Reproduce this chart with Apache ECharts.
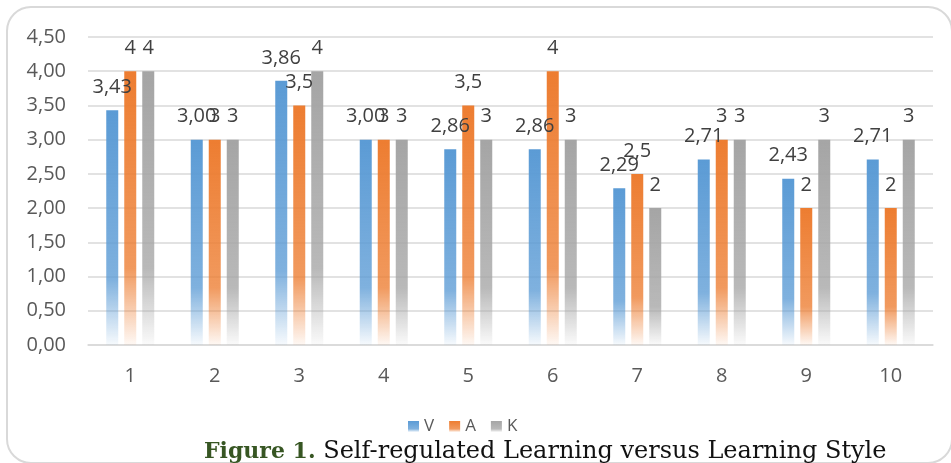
<!DOCTYPE html>
<html><head><meta charset="utf-8">
<script src="https://cdn.jsdelivr.net/npm/echarts@6/dist/echarts.min.js"></script>
<style>html,body{margin:0;padding:0;background:#fff}#c{width:951px;height:463px}</style>
</head><body><div id="c"></div>
<script>
const categories = ['1','2','3','4','5','6','7','8','9','10'];
const seriesNames = ['V','A','K'];
const valuesV = [3.43, 3.00, 3.86, 3.00, 2.86, 2.86, 2.29, 2.71, 2.43, 2.71];
const valuesA = [4, 3, 3.5, 3, 3.5, 4, 2.5, 3, 2, 2];
const valuesK = [4, 3, 4, 3, 3, 3, 2, 3, 3, 3];
const yTicks = [0, 0.5, 1, 1.5, 2, 2.5, 3, 3.5, 4, 4.5];
const captionBold = 'Figure 1.';
const captionText = ' Self-regulated Learning versus Learning Style';

const baseColors = [[91,155,213],[237,125,49],[165,165,165]];
function grad(c){
  const [r,g,b]=c;
  return new echarts.graphic.LinearGradient(0,0,0,1,[
    {offset:0,color:`rgb(${r},${g},${b})`},
    {offset:0.72,color:`rgba(${r},${g},${b},0.78)`},
    {offset:1,color:`rgba(${r},${g},${b},0.05)`}
  ]);
}
const fmt2 = p => p.value.toFixed(2).replace('.', ',');
const fmtN = p => String(p.value).replace('.', ',');
const dataSets = [valuesV, valuesA, valuesK];
const font = 'Open Sans';

const chart = echarts.init(document.getElementById('c'));
chart.setOption({
  animation:false,
  grid:{left:88,right:18,top:37,bottom:118},
  legend:{
    data:seriesNames, top:413, left:403,
    itemWidth:11,itemHeight:11,itemGap:15,icon:'rect',
    textStyle:{color:'#595959',fontSize:17,fontFamily:font}
  },
  xAxis:{
    type:'category',data:categories,
    axisLine:{lineStyle:{color:'#d9d9d9',width:1.5}},
    axisTick:{show:false},
    axisLabel:{color:'#595959',fontSize:20,fontFamily:font,margin:21}
  },
  yAxis:{
    type:'value',min:0,max:4.5,interval:0.5,
    axisLine:{show:false},axisTick:{show:false},
    splitLine:{lineStyle:{color:'#d9d9d9',width:1.5}},
    axisLabel:{color:'#595959',fontSize:20,fontFamily:font,margin:22,
      formatter:v=>{const t=yTicks.find(x=>Math.abs(x-v)<1e-9);return (t!==undefined?t:v).toFixed(2).replace('.',',');}}
  },
  series: seriesNames.map((n,i)=>({
    name:n,type:'bar',data:dataSets[i],barWidth:12,barGap:'50%',
    itemStyle:{color:grad(baseColors[i])},
    label:{show:true,position:'top',distance:13,color:'#404040',fontSize:20,fontFamily:font,
      formatter: i===0?fmt2:fmtN}
  })),
  title:{
    text:'{b|'+captionBold+'}{n|'+captionText+'}',
    left:199,top:435,
    textStyle:{fontWeight:'normal',rich:{
      b:{fontFamily:'DejaVu Serif',fontSize:22,fontWeight:'bold',color:'#375623'},
      n:{fontFamily:'DejaVu Serif',fontSize:24,fontWeight:'normal',color:'#111'}
    }}
  },
  graphic:[{
    type:'rect',silent:true,z:-10,
    shape:{x:7,y:7,width:945,height:456,r:24},
    style:{fill:'none',stroke:'#d9d9d9',lineWidth:2}
  }]
});
</script></body></html>
